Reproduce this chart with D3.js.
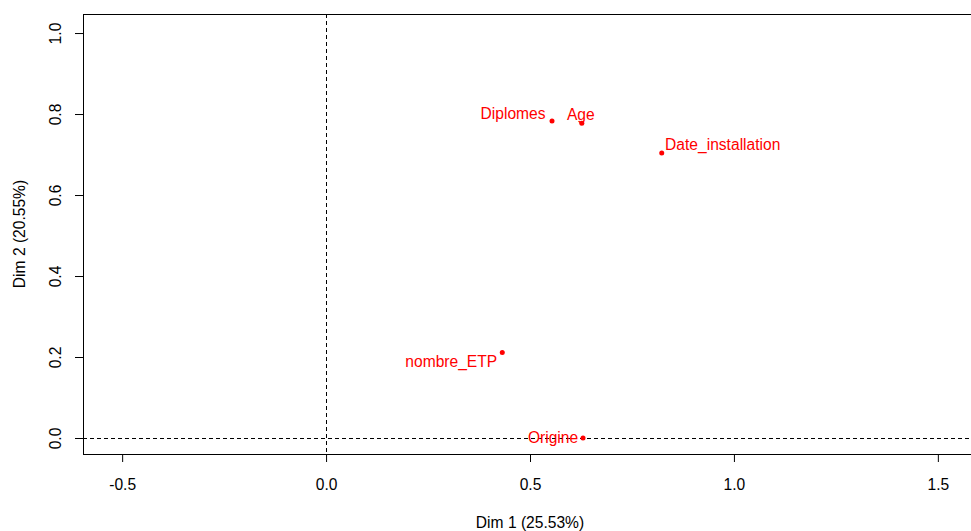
<!DOCTYPE html>
<html>
<head>
<meta charset="utf-8">
<script src="https://cdn.jsdelivr.net/npm/d3@7"></script>
<style>
  body { margin: 0; background: #fff; }
  svg text { font-family: "Liberation Sans", Arial, sans-serif; }
</style>
</head>
<body>
<svg id="canvas" width="971" height="531"></svg>
<script>
// variables (PCA correlation coords)
let names = ['Diplomes', 'Age', 'Date_installation', 'nombre_ETP', 'Origine']
let dim1 = [0.554, 0.627, 0.823, 0.432, 0.630]
let dim2 = [0.783, 0.777, 0.704, 0.211, 0.000]

let xTicks = [-0.5, 0.0, 0.5, 1.0, 1.5]
let yTicks = [0.0, 0.2, 0.4, 0.6, 0.8, 1.0]

let xTitle = 'Dim 1 (25.53%)'
let yTitle = 'Dim 2 (20.55%)'

// label placement around each point (px, centre of the text)
let labelDx = [-39, -1, 61, -51, -30]
let labelDy = [-8, -9, -9, 9, -1]

let plotLeft = 83, plotRight = 977, plotTop = 14, plotBottom = 454
let fontSize = '15.6px'

let canvas = d3.select('#canvas')

let xScale = d3.scaleLinear().domain([-0.596, 1.596]).range([plotLeft, plotRight])
let yScale = d3.scaleLinear().domain([-0.0395, 1.047]).range([plotBottom, plotTop])

// x axis
let xAxis = canvas.append('g')
    .attr('transform', 'translate(0,' + plotBottom + ')')
    .call(d3.axisBottom(xScale).tickValues(xTicks).tickSize(8).tickFormat(d3.format('.1f')))
xAxis.select('.domain').remove()
xAxis.selectAll('line').attr('stroke', '#000')
xAxis.selectAll('text')
    .attr('dy', null)
    .attr('y', 36)
    .attr('fill', '#000')
    .style('font-size', fontSize)
    .text(d => d < 0 ? '-' + Math.abs(d).toFixed(1) : d.toFixed(1))

// y axis, labels turned like R
let yAxis = canvas.append('g')
    .attr('transform', 'translate(' + plotLeft + ',0)')
    .call(d3.axisLeft(yScale).tickValues(yTicks).tickSize(8).tickFormat(d3.format('.1f')))
yAxis.select('.domain').remove()
yAxis.selectAll('line').attr('stroke', '#000')
yAxis.selectAll('text')
    .attr('x', 0)
    .attr('dy', null)
    .attr('text-anchor', 'middle')
    .attr('transform', 'translate(-22.5,0) rotate(-90)')
    .attr('fill', '#000')
    .style('font-size', fontSize)

// reference lines
canvas.append('line')
    .attr('x1', Math.round(xScale(0)) + 0.5).attr('x2', Math.round(xScale(0)) + 0.5)
    .attr('y1', plotTop).attr('y2', plotBottom)
    .attr('stroke', '#000').attr('stroke-dasharray', '4,3')
canvas.append('line')
    .attr('x1', plotLeft).attr('x2', plotRight)
    .attr('y1', Math.round(yScale(0)) + 0.5).attr('y2', Math.round(yScale(0)) + 0.5)
    .attr('stroke', '#000').attr('stroke-dasharray', '4,3')

// box
canvas.append('rect')
    .attr('x', plotLeft + 0.5).attr('y', plotTop + 0.5)
    .attr('width', plotRight - plotLeft).attr('height', plotBottom - plotTop)
    .attr('fill', 'none').attr('stroke', '#000')

// titles
canvas.append('text')
    .attr('x', (plotLeft + plotRight) / 2).attr('y', 528)
    .attr('text-anchor', 'middle')
    .style('font-size', fontSize)
    .text(xTitle)
canvas.append('text')
    .attr('transform', 'translate(24.5,' + (plotTop + plotBottom) / 2 + ') rotate(-90)')
    .attr('text-anchor', 'middle')
    .style('font-size', fontSize)
    .text(yTitle)

// points
canvas.selectAll('circle.pt')
    .data(names)
    .enter()
    .append('circle')
    .attr('class', 'pt')
    .attr('cx', (d, i) => xScale(dim1[i]))
    .attr('cy', (d, i) => yScale(dim2[i]))
    .attr('r', 2.5)
    .attr('fill', '#ff0000')

// labels
canvas.selectAll('text.lab')
    .data(names)
    .enter()
    .append('text')
    .attr('class', 'lab')
    .attr('x', (d, i) => xScale(dim1[i]) + labelDx[i])
    .attr('y', (d, i) => yScale(dim2[i]) + labelDy[i] + 5.7)
    .attr('text-anchor', 'middle')
    .attr('fill', '#ff0000')
    .style('font-size', fontSize)
    .text(d => d)
</script>
</body>
</html>
